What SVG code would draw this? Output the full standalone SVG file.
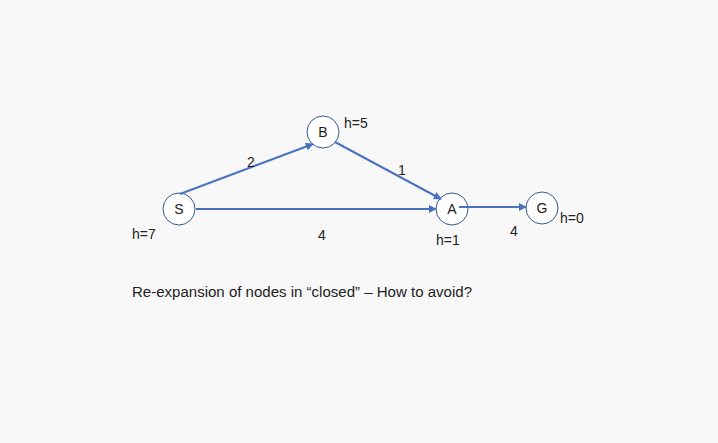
<svg xmlns="http://www.w3.org/2000/svg" width="718" height="443" viewBox="0 0 718 443">
<style>
.node{fill:#ffffff;stroke:#3a5a94;stroke-width:1}
.t{font-family:"Liberation Sans",Arial,sans-serif;font-size:14px;fill:#222}
.e{stroke:#4a72c0;stroke-width:2;fill:none;marker-end:url(#ah)}
</style>
<defs>
<marker id="ah" viewBox="0 0 10 10" refX="9" refY="5" markerWidth="4" markerHeight="4" orient="auto" markerUnits="strokeWidth">
<path d="M0,0 L10,5 L0,10 z" fill="#4a72c0"/>
</marker>
</defs>
<rect width="718" height="443" fill="#f8f8f8"/>
<g id="node-S"><circle class="node" cx="179" cy="209" r="16"/><text class="t" x="179" y="214" text-anchor="middle">S</text></g>
<g id="node-B"><circle class="node" cx="323" cy="132" r="16"/><text class="t" x="323" y="137" text-anchor="middle">B</text></g>
<g id="node-A"><circle class="node" cx="452" cy="209" r="16"/><text class="t" x="452" y="214" text-anchor="middle">A</text></g>
<g id="node-G"><circle class="node" cx="542" cy="208" r="16"/><text class="t" x="542" y="213" text-anchor="middle">G</text></g>
<g id="connectors">
<line class="e" x1="180" y1="194" x2="313" y2="144"/>
<line class="e" x1="335" y1="142" x2="441" y2="199"/>
<line class="e" x1="196" y1="209" x2="436" y2="209"/>
<line class="e" x1="459" y1="207" x2="526" y2="207"/>
</g>
<g id="labels">
<text class="t" x="251" y="167" text-anchor="middle">2</text>
<text class="t" x="402" y="175" text-anchor="middle">1</text>
<text class="t" x="322" y="240" text-anchor="middle">4</text>
<text class="t" x="514" y="236" text-anchor="middle">4</text>
<text class="t" x="344" y="128">h=5</text>
<text class="t" x="132" y="239">h=7</text>
<text class="t" x="436" y="245">h=1</text>
<text class="t" x="560" y="223">h=0</text>
<text class="t" x="132" y="297" style="font-size:15.5px" textLength="340" lengthAdjust="spacingAndGlyphs">Re-expansion of nodes in “closed” – How to avoid?</text>
</g>
</svg>
